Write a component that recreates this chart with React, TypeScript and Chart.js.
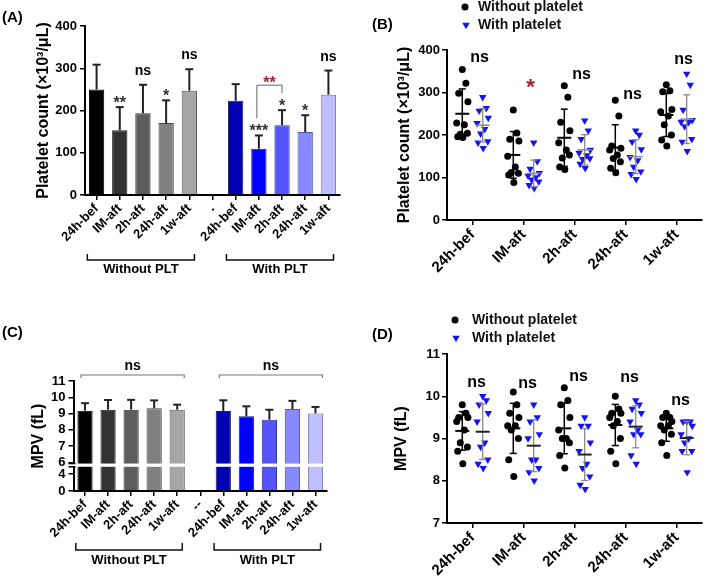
import React, { useEffect, useRef } from 'react';
import { Chart, registerables, LinearScale } from 'chart.js';

// ---------- data ----------
const TIMEPOINTS = ['24h-bef', 'IM-aft', '2h-aft', '24h-aft', '1w-aft'];
const BAR_LABELS_A = [...TIMEPOINTS, '.', ...TIMEPOINTS];
const BAR_LABELS_C = [...TIMEPOINTS, '--', ...TIMEPOINTS];
const GROUP_NAMES = ['Without PLT', 'With PLT'];
const SERIES_NAMES = ['Without platelet', 'With platelet'];

// platelet count (x10^3/uL), one array per time point, per animal
const PLT_WITHOUT = [
  [354, 322, 298, 278, 228, 224, 202, 204, 196, 194],
  [259, 205, 190, 186, 150, 125, 112, 110, 106, 88],
  [316, 289, 230, 210, 182, 165, 146, 153, 125, 119],
  [282, 245, 174, 169, 165, 153, 145, 137, 122, 111],
  [318, 304, 302, 260, 255, 245, 224, 200, 188, 174],
];
const PLT_WITH = [
  [289, 263, 257, 240, 228, 214, 203, 185, 182, 169],
  [182, 138, 120, 110, 104, 100, 95, 90, 82, 75],
  [234, 210, 190, 165, 158, 152, 143, 145, 132, 122],
  [210, 200, 184, 166, 148, 140, 125, 114, 108, 96],
  [344, 318, 259, 235, 231, 230, 220, 190, 184, 162],
];
// MPV (fL)
const MPV_WITHOUT = [
  [9.8, 9.6, 9.5, 9.5, 9.4, 9.2, 8.9, 8.8, 8.7, 8.4],
  [10.1, 9.8, 9.6, 9.5, 9.3, 9.3, 9.2, 9.0, 8.5, 8.1],
  [10.2, 9.9, 9.8, 9.5, 9.2, 9.0, 9.0, 8.9, 8.6, 8.3],
  [10.0, 9.7, 9.6, 9.6, 9.5, 9.4, 9.3, 9.0, 8.7, 8.4],
  [9.6, 9.5, 9.5, 9.4, 9.3, 9.3, 9.2, 9.1, 8.9, 8.6],
];
const MPV_WITH = [
  [10.0, 9.9, 9.8, 9.6, 9.4, 8.9, 8.8, 8.5, 8.4, 8.3],
  [9.8, 9.5, 9.4, 9.1, 9.0, 8.5, 8.5, 8.3, 8.2, 8.0],
  [9.5, 9.3, 9.3, 8.9, 8.7, 8.4, 8.3, 8.1, 7.9, 7.8],
  [9.9, 9.8, 9.7, 9.6, 9.4, 9.2, 9.1, 9.1, 8.6, 8.4],
  [9.4, 9.4, 9.4, 9.3, 9.1, 9.0, 8.9, 8.7, 8.7, 8.2],
];

// significance marks
const SIG_A = ['', '**', 'ns', '*', 'ns', '', '', '***', '*', '*', 'ns'];
const SIG_A_PAIR = { from: 7, to: 8, label: '**' };
const SIG_B = ['ns', '*', 'ns', 'ns', 'ns'];
const SIG_B_Y = [383, 324, 343, 296, 379];
const SIG_D = ['ns', 'ns', 'ns', 'ns', 'ns'];
const SIG_D_Y = [10.34, 10.31, 10.48, 10.46, 9.91];
const SIG_C = 'ns';

const C_TICKS = [0, 4, 6, 7, 8, 9, 10, 11];

// ---------- helpers ----------
const mean = (a: number[]) => a.reduce((s, v) => s + v, 0) / a.length;
const sd = (a: number[]) => {
  const m = mean(a);
  return Math.sqrt(a.reduce((s, v) => s + (v - m) ** 2, 0) / (a.length - 1));
};
const barStats = (w: number[][], p: number[][]) => ({
  means: [...w.map(mean), null, ...p.map(mean)] as (number | null)[],
  sds: [...w.map(sd), null, ...p.map(sd)] as (number | null)[],
});
const PLT_BARS = barStats(PLT_WITHOUT, PLT_WITH);
const MPV_BARS = barStats(MPV_WITHOUT, MPV_WITH);

const FONT = "'Liberation Sans', Arial, Helvetica, sans-serif";
const BAR_COLORS = ['#000000', '#333333', '#5d5d5d', '#808080', '#a6a6a6', '#ffffff', '#0000b2', '#0000ff', '#5454ff', '#8888ff', '#bfbfff'];
const BAR_EDGES = ['#000', '#222', '#333', '#444', '#555', '#fff', '#1a1a60', '#1a1a80', '#30309a', '#5555aa', '#7777aa'];
const JITTER = [0, 0.07, -0.07, 0.11, -0.11, 0.04, -0.04, 0.1, -0.09, 0.01];
const GROUP_SHIFT = 0.2;
const RED = '#a8202a';

// broken y axis for panel C
const BRK_VALUE = 5.73;
const BRK_FRACTION = 0.22;
const GAP_TO = 5.93;

class BrokenLinearScale extends LinearScale {
  static id = 'brokenLinear';
  getPixelForValue(value: number) {
    const lo = this.min;
    const hi = this.max;
    let f;
    if (value <= BRK_VALUE) f = ((value - lo) / (BRK_VALUE - lo)) * BRK_FRACTION;
    else f = BRK_FRACTION + ((value - BRK_VALUE) / (hi - BRK_VALUE)) * (1 - BRK_FRACTION);
    return this.bottom - f * (this.bottom - this.top);
  }
  getValueForPixel(pixel: number) {
    const f = (this.bottom - pixel) / (this.bottom - this.top);
    if (f <= BRK_FRACTION) return this.min + (f / BRK_FRACTION) * (BRK_VALUE - this.min);
    return BRK_VALUE + ((f - BRK_FRACTION) / (1 - BRK_FRACTION)) * (this.max - BRK_VALUE);
  }
}

Chart.register(...registerables, BrokenLinearScale);

const font = (size: number) => ({ family: FONT, size, weight: 'bold' as const });
const axisBorder = { display: true, color: '#000', width: 2 };
const tickGrid = { display: true, drawOnChartArea: false, drawTicks: true, tickLength: 5, color: '#000', lineWidth: 1.5 };

function text(ctx: CanvasRenderingContext2D, s: string, x: number, y: number, size: number, color = '#000', align: CanvasTextAlign = 'center', base: CanvasTextBaseline = 'alphabetic') {
  ctx.save();
  ctx.font = `bold ${size}px ${FONT}`;
  ctx.fillStyle = color;
  ctx.textAlign = align;
  ctx.textBaseline = base;
  ctx.fillText(s, x, y);
  ctx.restore();
}

function line(ctx: CanvasRenderingContext2D, pts: number[][], color: string, width: number) {
  ctx.save();
  ctx.strokeStyle = color;
  ctx.lineWidth = width;
  ctx.beginPath();
  pts.forEach(([px, py], i) => (i ? ctx.lineTo(px, py) : ctx.moveTo(px, py)));
  ctx.stroke();
  ctx.restore();
}

function drawErrorBars(chart: any, stats: { means: (number | null)[]; sds: (number | null)[] }) {
  const { ctx, scales: { x, y } } = chart;
  stats.means.forEach((m, i) => {
    const s = stats.sds[i];
    if (m == null || s == null) return;
    const px = x.getPixelForValue(i);
    const y0 = y.getPixelForValue(m);
    const y1 = y.getPixelForValue(m + s);
    line(ctx, [[px, y0], [px, y1]], '#222', 2);
    line(ctx, [[px - 4, y1], [px + 4, y1]], '#222', 2);
  });
}

function drawGroupBrackets(chart: any, lineOff: number, endOff: number, textOff: number) {
  const { ctx, scales: { x }, chartArea } = chart;
  const spans = [[0, 4], [6, 10]];
  spans.forEach(([a, b], g) => {
    const x1 = x.getPixelForValue(a - 0.4);
    const x2 = x.getPixelForValue(b + 0.22);
    const yl = chartArea.bottom + lineOff;
    const ye = chartArea.bottom + endOff;
    line(ctx, [[x1, ye], [x1, yl], [x2, yl], [x2, ye]], '#111', 1.5);
    text(ctx, GROUP_NAMES[g], (x1 + x2) / 2, chartArea.bottom + textOff, 13);
  });
}

function drawMeanSd(chart: any, groups: number[][], shift: number, color: string, meanColor: string, meanW: number, sdW: number) {
  const { ctx, scales: { x, y } } = chart;
  groups.forEach((vals, i) => {
    const m = mean(vals);
    const s = sd(vals);
    const px = x.getPixelForValue(i + shift);
    const yt = y.getPixelForValue(m + s);
    const yb = y.getPixelForValue(m - s);
    const ym = y.getPixelForValue(m);
    line(ctx, [[px, yt], [px, yb]], color, sdW);
    line(ctx, [[px - 3.5, yt], [px + 3.5, yt]], color, sdW);
    line(ctx, [[px - 3.5, yb], [px + 3.5, yb]], color, sdW);
    line(ctx, [[px - 7, ym], [px + 7, ym]], meanColor, meanW);
  });
}

function triangleDown(ctx: CanvasRenderingContext2D, cx: number, cy: number, r: number, color: string) {
  ctx.save();
  ctx.fillStyle = color;
  ctx.beginPath();
  ctx.moveTo(cx, cy + r);
  ctx.lineTo(cx - r * 0.866, cy - r / 2);
  ctx.lineTo(cx + r * 0.866, cy - r / 2);
  ctx.closePath();
  ctx.fill();
  ctx.restore();
}

function drawLegend(ctx: CanvasRenderingContext2D, mx: number, tx: number, y1: number, y2: number) {
  ctx.save();
  ctx.fillStyle = '#000';
  ctx.beginPath();
  ctx.arc(mx, y1, 3.5, 0, Math.PI * 2);
  ctx.fill();
  ctx.restore();
  triangleDown(ctx, mx + 1, y2, 4.3, '#1414f0');
  text(ctx, SERIES_NAMES[0], tx, y1, 14, '#111', 'left', 'middle');
  text(ctx, SERIES_NAMES[1], tx, y2, 14, '#111', 'left', 'middle');
}

const pointsFor = (groups: number[][], shift: number) =>
  groups.flatMap((vals, i) => vals.map((v, j) => ({ x: i + shift + JITTER[j], y: v })));

// ---------- configs ----------
function barConfig(labels: string[], stats: any, yOpts: any, pad: any, yWidth: number, xHeight: number, plugin: any) {
  return {
    type: 'bar',
    data: {
      labels,
      datasets: [{
        data: stats.means,
        backgroundColor: BAR_COLORS,
        borderColor: BAR_EDGES,
        borderWidth: 1,
        barPercentage: 0.66,
        categoryPercentage: 1,
      }],
    },
    options: {
      responsive: false,
      animation: false,
      layout: { padding: pad },
      plugins: { legend: { display: false }, tooltip: { enabled: false } },
      scales: {
        x: {
          offset: true,
          grid: { ...tickGrid, offset: false },
          border: axisBorder,
          ticks: { font: font(13), color: '#000', minRotation: 45, maxRotation: 45, autoSkip: false, padding: 1 },
          afterFit: (s: any) => { s.height = xHeight; },
        },
        y: {
          ...yOpts,
          grid: tickGrid,
          border: axisBorder,
          afterFit: (s: any) => { s.width = yWidth; },
        },
      },
    },
    plugins: [plugin],
  };
}

function scatterConfig(w: number[][], p: number[][], yOpts: any, pad: any, yWidth: number, xHeight: number, plugin: any) {
  return {
    type: 'scatter',
    data: {
      datasets: [
        { label: SERIES_NAMES[0], data: pointsFor(w, -GROUP_SHIFT), pointStyle: 'circle', pointRadius: 3.5, pointHoverRadius: 3.5, pointBackgroundColor: '#000', pointBorderWidth: 0 },
        { label: SERIES_NAMES[1], data: pointsFor(p, GROUP_SHIFT), pointStyle: 'triangle', pointRotation: 180, pointRadius: 4.3, pointHoverRadius: 4.3, pointBackgroundColor: '#1414f0', pointBorderWidth: 0 },
      ],
    },
    options: {
      responsive: false,
      animation: false,
      layout: { padding: pad },
      plugins: { legend: { display: false }, tooltip: { enabled: false } },
      scales: {
        x: {
          type: 'linear',
          min: -0.5,
          max: 4.5,
          afterBuildTicks: (s: any) => { s.ticks = TIMEPOINTS.map((_, i) => ({ value: i })); },
          grid: tickGrid,
          border: axisBorder,
          ticks: { font: font(15), color: '#000', minRotation: 45, maxRotation: 45, autoSkip: false, padding: 1, callback: (v: number) => TIMEPOINTS[v] ?? '' },
          afterFit: (s: any) => { s.height = xHeight; },
        },
        y: {
          ...yOpts,
          grid: tickGrid,
          border: axisBorder,
          afterFit: (s: any) => { s.width = yWidth; },
        },
      },
    },
    plugins: [plugin],
  };
}

const yTitle = (t: string) => ({ display: true, text: t, font: font(16), color: '#000' });

const buildA = () => barConfig(
  BAR_LABELS_A, PLT_BARS,
  { min: 0, max: 400, ticks: { stepSize: 100, font: font(13), color: '#000', padding: 3 }, title: yTitle('Platelet count (×10³/μL)') },
  { left: 30, top: 26, right: 15, bottom: 0 }, 55, 95,
  {
    id: 'panelA',
    afterDatasetsDraw: (chart: any) => drawErrorBars(chart, PLT_BARS),
    afterDraw: (chart: any) => {
      const { ctx, scales: { x, y } } = chart;
      SIG_A.forEach((s, i) => {
        if (!s) return;
        const m = PLT_BARS.means[i] as number;
        const top = y.getPixelForValue(m + (PLT_BARS.sds[i] as number));
        if (s === 'ns') text(ctx, s, x.getPixelForValue(i), top - 10, 14);
        else text(ctx, s, x.getPixelForValue(i), top + 1, 16, '#333');
      });
      const { from, to, label } = SIG_A_PAIR;
      const tf = y.getPixelForValue((PLT_BARS.means[from] as number) + (PLT_BARS.sds[from] as number)) - 17;
      const tt = y.getPixelForValue((PLT_BARS.means[to] as number) + (PLT_BARS.sds[to] as number)) - 17;
      const yb = Math.min(tf, tt) - 8;
      const x1 = x.getPixelForValue(from) - 2;
      const x2 = x.getPixelForValue(to);
      line(ctx, [[x1, tf], [x1, yb], [x2, yb], [x2, tt]], '#666', 1);
      text(ctx, label, (x1 + x2) / 2, yb + 3, 16, RED);
      drawGroupBrackets(chart, 65, 59, 78);
      text(ctx, '(A)', 2, 18, 15, '#000', 'left', 'middle');
    },
  },
);

const buildC = () => barConfig(
  BAR_LABELS_C, MPV_BARS,
  {
    type: 'brokenLinear', min: 0, max: 11,
    afterBuildTicks: (s: any) => { s.ticks = C_TICKS.map((v) => ({ value: v })); },
    ticks: { font: font(13), color: '#000', padding: 3, autoSkip: false, callback: (v: number) => String(v) },
    title: yTitle('MPV (fL)'),
  },
  { left: 24.5, top: 81, right: 28, bottom: 0 }, 49, 95,
  {
    id: 'panelC',
    afterDatasetsDraw: (chart: any) => drawErrorBars(chart, MPV_BARS),
    afterDraw: (chart: any) => {
      const { ctx, scales: { x, y }, chartArea } = chart;
      const g1 = y.getPixelForValue(GAP_TO);
      const g2 = y.getPixelForValue(BRK_VALUE);
      ctx.save();
      ctx.fillStyle = '#fff';
      ctx.fillRect(chartArea.left - 8, g1, chartArea.width + 8, g2 - g1);
      ctx.restore();
      line(ctx, [[chartArea.left - 5, g1], [chartArea.left + 2, g1]], '#000', 1.5);
      line(ctx, [[chartArea.left - 5, g2], [chartArea.left + 2, g2]], '#000', 1.5);
      [[0, 4], [6, 10]].forEach(([a, b]) => {
        const x1 = x.getPixelForValue(a) - 4;
        const x2 = x.getPixelForValue(b) + 7;
        const yl = chartArea.top - 6;
        line(ctx, [[x1, yl + 3], [x1, yl], [x2, yl], [x2, yl + 3]], '#777', 1.2);
        text(ctx, SIG_C, (x1 + x2) / 2, yl - 5, 14);
      });
      drawGroupBrackets(chart, 59, 52, 73);
      text(ctx, '(C)', 2, 33, 15, '#000', 'left', 'middle');
    },
  },
);

const buildB = () => scatterConfig(
  PLT_WITHOUT, PLT_WITH,
  { min: 0, max: 400, ticks: { stepSize: 100, font: font(13), color: '#000', padding: 2 }, title: yTitle('Platelet count (×10³/μL)') },
  { left: 36.4, top: 50, right: 7, bottom: 0 }, 55.6, 70,
  {
    id: 'panelB',
    afterDatasetsDraw: (chart: any) => {
      drawMeanSd(chart, PLT_WITHOUT, -GROUP_SHIFT, '#000', '#000', 2, 1.5);
      drawMeanSd(chart, PLT_WITH, GROUP_SHIFT, '#8a8a8a', '#8a8a8a', 1.5, 1.3);
    },
    afterDraw: (chart: any) => {
      const { ctx, scales: { x, y } } = chart;
      SIG_B.forEach((s, i) => {
        const px = x.getPixelForValue(i + 0.14);
        const py = y.getPixelForValue(SIG_B_Y[i]);
        if (s === 'ns') text(ctx, s, px, py + 5, 16);
        else text(ctx, s, px, py + 12, 22, RED);
      });
      drawLegend(ctx, 110, 123, 7, 25);
      text(ctx, '(B)', 17, 25, 15, '#000', 'left', 'middle');
    },
  },
);

const buildD = () => scatterConfig(
  MPV_WITHOUT, MPV_WITH,
  { min: 7, max: 11, ticks: { stepSize: 1, font: font(13), color: '#000', padding: 2 }, title: yTitle('MPV (fL)') },
  { left: 33.4, top: 54, right: 7, bottom: 0 }, 58.6, 63,
  {
    id: 'panelD',
    afterDatasetsDraw: (chart: any) => {
      drawMeanSd(chart, MPV_WITHOUT, -GROUP_SHIFT, '#000', '#000', 2, 1.5);
      drawMeanSd(chart, MPV_WITH, GROUP_SHIFT, '#8a8a8a', '#222', 2, 1.3);
    },
    afterDraw: (chart: any) => {
      const { ctx, scales: { x, y } } = chart;
      SIG_D.forEach((s, i) => {
        text(ctx, s, x.getPixelForValue(i + 0.08), y.getPixelForValue(SIG_D_Y[i]) + 5, 16);
      });
      drawLegend(ctx, 100, 117, 20, 38);
      text(ctx, '(D)', 17, 35, 15, '#000', 'left', 'middle');
    },
  },
);

// ---------- components ----------
function ChartPanel({ left, top, width, height, build }: { left: number; top: number; width: number; height: number; build: () => any }) {
  const ref = useRef<HTMLCanvasElement>(null);
  useEffect(() => {
    const chart = new Chart(ref.current as HTMLCanvasElement, build());
    return () => chart.destroy();
  }, []);
  return (
    <div style={{ position: 'absolute', left, top, width, height }}>
      <canvas ref={ref} width={width} height={height} style={{ display: 'block', width, height }} />
    </div>
  );
}

export default function App() {
  return (
    <div style={{ position: 'fixed', left: 0, top: 0, width: 709, height: 586, background: '#fff', overflow: 'hidden' }}>
      <ChartPanel left={0} top={0} width={355} height={290} build={buildA} />
      <ChartPanel left={355} top={0} width={354} height={290} build={buildB} />
      <ChartPanel left={0} top={300} width={355} height={286} build={buildC} />
      <ChartPanel left={355} top={300} width={354} height={286} build={buildD} />
    </div>
  );
}
